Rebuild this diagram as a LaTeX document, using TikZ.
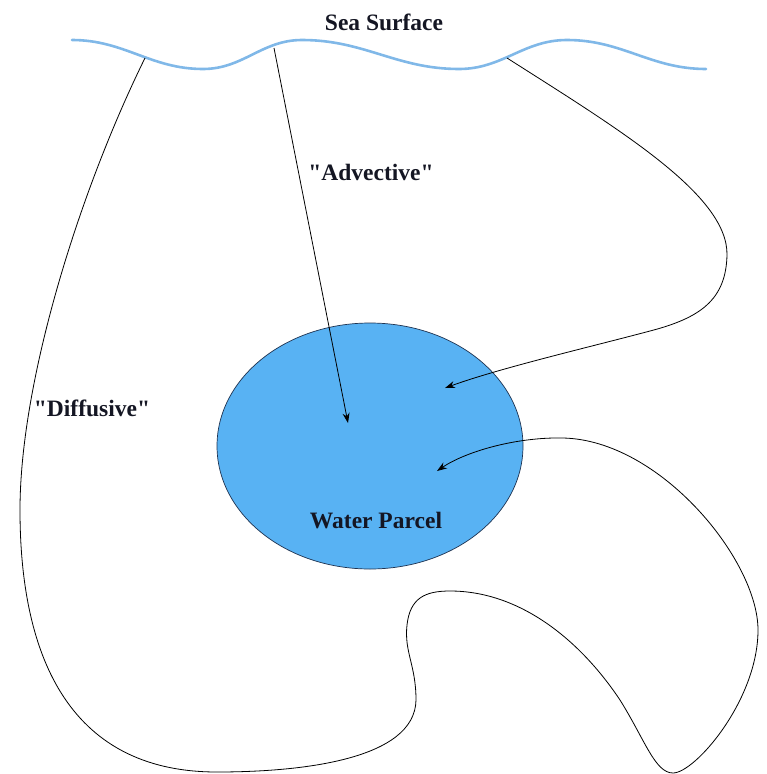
\documentclass[tikz,border=0pt]{standalone}
\usepackage{fontspec}
\setmainfont{Liberation Serif}
\usetikzlibrary{arrows.meta,shapes.geometric}
\definecolor{wavecol}{RGB}{128,184,232}
\definecolor{parcelfill}{RGB}{88,178,243}
\definecolor{parcelline}{RGB}{30,50,80}
\definecolor{txt}{RGB}{20,22,35}
\tikzset{
  lbl/.style={font=\bfseries\fontsize{23.5}{27}\selectfont, text=txt, inner sep=0pt},
  flow/.style={draw=black, line width=0.8pt, -{Stealth[length=10pt,width=7pt]}},
  wave/.style={draw=wavecol, line width=2.6pt, line cap=round},
  parcel/.style={ellipse, draw=parcelline, line width=0.7pt, fill=parcelfill,
    minimum width=306pt, minimum height=246pt, inner sep=0pt}
}
\newcommand{\qd}{\textquotedbl}
\begin{document}
\begin{tikzpicture}[x=1pt,y=-1pt]
\useasboundingbox (0,0) rectangle (766,774);
% sea surface wave
\draw[wave] (72,40) to[out=0,in=180] (203,69) to[out=0,in=180] (302,40)
  to[out=0,in=180] (459,69) to[out=0,in=180] (567,40) to[out=0,in=180] (706,69);
\node[lbl] (sea) at (384,22) {Sea Surface};
% water parcel
\node[parcel] (wp) at (370,446) {};
\node[lbl] (wpl) at (376,521) {Water Parcel};
% connector endpoints
\coordinate (sA) at (274,48);
\coordinate (eA) at (348,423);
\coordinate (sR) at (507,58);
\coordinate (eR) at (445,388);
\coordinate (sD) at (145,58);
\coordinate (eD) at (437,471);
% advective
\draw[flow] (sA) -- (eA);
\node[lbl] (adv) at (371,172) {\qd Advective\qd};
% right path
\draw[flow] (sR) .. controls (620,130) and (728,195) .. (727,255)
  .. controls (726,300) and (700,318) .. (650,331)
  .. controls (590,347) and (500,368) .. (eR);
% diffusive path
\draw[flow] (sD) .. controls (80,190) and (20,380) .. (20,510)
  .. controls (20,650) and (65,772) .. (217,772)
  .. controls (300,772) and (415,760) .. (416,700)
  .. controls (416,665) and (404,652) .. (407,625)
  .. controls (410,598) and (425,591) .. (450,591)
  .. controls (520,591) and (580,640) .. (620,700)
  .. controls (645,740) and (655,773) .. (673,773)
  .. controls (695,773) and (758,700) .. (758,630)
  .. controls (758,560) and (660,440) .. (563,438)
  .. controls (515,437) and (465,452) .. (eD);
\node[lbl] (dif) at (92,408) {\qd Diffusive\qd};
\end{tikzpicture}
\end{document}
